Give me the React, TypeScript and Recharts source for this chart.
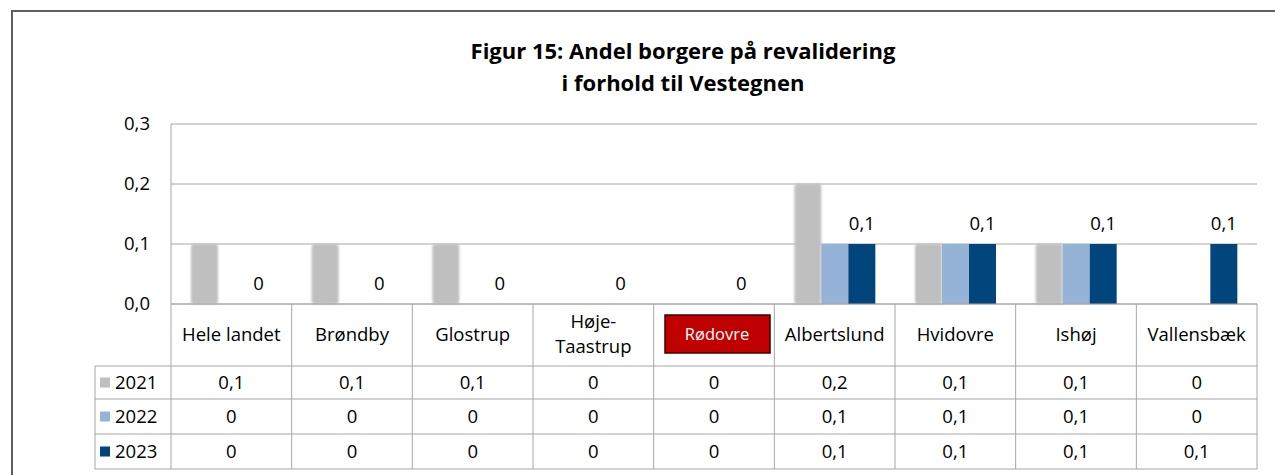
import React from "react";
import {
  BarChart,
  Bar,
  XAxis,
  YAxis,
  CartesianGrid,
} from "recharts";

const categories = [
  "Hele landet",
  "Brøndby",
  "Glostrup",
  "Høje-Taastrup",
  "Rødovre",
  "Albertslund",
  "Hvidovre",
  "Ishøj",
  "Vallensbæk",
];
const values2021 = [0.1, 0.1, 0.1, 0, 0, 0.2, 0.1, 0.1, 0];
const values2022 = [0, 0, 0, 0, 0, 0.1, 0.1, 0.1, 0];
const values2023 = [0, 0, 0, 0, 0, 0.1, 0.1, 0.1, 0.1];
const yTicks = [0, 0.1, 0.2, 0.3];
const years = ["2021", "2022", "2023"];
const colors = ["#bfbfbf", "#95b3d7", "#00457c"];
const highlight = "Rødovre";

const W = 1275;
const H = 475;
const PLOT_LEFT = 171;
const PLOT_RIGHT = 1257;
const PLOT_TOP = 124;
const PLOT_BOTTOM = 304;
const ROW_LINES = [366, 399, 434, 469];
const TABLE_LEFT = 95;
const BAND = (PLOT_RIGHT - PLOT_LEFT) / categories.length;
const FONT = "'Open Sans', Lato, sans-serif";
const FS = 18.5;
const LINE = "#a6a6a6";

const data = categories.map((name, i) => ({
  name,
  y2021: values2021[i],
  y2022: values2022[i],
  y2023: values2023[i],
}));
const seriesKeys = ["y2021", "y2022", "y2023"];
const seriesValues = [values2021, values2022, values2023];

const fmt = (v: number) => (v === 0 ? "0" : String(v).replace(".", ","));
const fmtAxis = (v: number) => v.toFixed(1).replace(".", ",");

function YTick(props: any) {
  const { y, payload } = props;
  return (
    <text x={PLOT_LEFT - 21} y={y} dy={6} textAnchor="end" fontSize={FS} fill="#000" fontFamily={FONT}>
      {fmtAxis(payload.value)}
    </text>
  );
}

function TableTick(props: any) {
  const { x, payload, index } = props;
  const name: string = payload.value;
  const right = x + BAND / 2;
  const lines = name.includes("-") ? [name.split("-")[0] + "-", name.split("-")[1]] : [name];
  return (
    <g fontFamily={FONT} fontSize={FS} fill="#000">
      {index === 0 && (
        <g>
          <line x1={PLOT_LEFT} x2={PLOT_LEFT} y1={PLOT_BOTTOM} y2={ROW_LINES[3]} stroke={LINE} />
          <line x1={TABLE_LEFT} x2={TABLE_LEFT} y1={ROW_LINES[0]} y2={ROW_LINES[3]} stroke={LINE} />
          {ROW_LINES.map((ry) => (
            <line key={ry} x1={TABLE_LEFT} x2={PLOT_RIGHT} y1={ry} y2={ry} stroke={LINE} />
          ))}
          {years.map((yr, r) => (
            <g key={yr}>
              <rect x={100} y={(ROW_LINES[r] + ROW_LINES[r + 1]) / 2 - 5} width={10} height={10} fill={colors[r]} />
              <text x={115} y={(ROW_LINES[r] + ROW_LINES[r + 1]) / 2 + 6} textAnchor="start">
                {yr}
              </text>
            </g>
          ))}
        </g>
      )}
      <line x1={right} x2={right} y1={PLOT_BOTTOM} y2={ROW_LINES[3]} stroke={LINE} />
      {name === highlight ? (
        <g>
          <rect x={x - 49} y={315} width={105} height={38} fill="#c00000" stroke="#3a0000" strokeWidth={1.5} />
          <text x={x + 3} y={340} textAnchor="middle" fill="#fff" fontSize={16.5}>
            {name}
          </text>
        </g>
      ) : lines.length === 1 ? (
        <text x={x} y={341} textAnchor="middle">
          {name}
        </text>
      ) : (
        lines.map((l, k) => (
          <text key={l} x={x} y={328 + k * 25} textAnchor="middle">
            {l}
          </text>
        ))
      )}
      {seriesValues.map((vals, r) => (
        <text key={r} x={x} y={(ROW_LINES[r] + ROW_LINES[r + 1]) / 2 + 6} textAnchor="middle">
          {fmt(vals[index])}
        </text>
      ))}
    </g>
  );
}

function SoftBar(props: any) {
  const { x, y, width, height, fill } = props;
  if (!height || height <= 0) return <g />;
  return <rect x={x} y={y} width={width} height={height} fill={fill} rx={3} filter="url(#soft)" />;
}

// 2023 bars carry the data labels, also for zero values
function LabelledBar(props: any) {
  const { x, y, width, height, fill, value } = props;
  const v = Array.isArray(value) ? value[1] - value[0] : value;
  return (
    <g>
      {height > 0 && <rect x={x} y={y} width={width} height={height} fill={fill} />}
      <text
        x={x + width / 2}
        y={y - 14}
        textAnchor="middle"
        fontFamily={FONT}
        fontSize={FS}
        fill="#000"
      >
        {fmt(Number(v))}
      </text>
    </g>
  );
}

export default function App() {
  return (
    <div style={{ position: "absolute", left: 0, top: 0, width: W, height: H, background: "#fff", overflow: "hidden" }}>
      <div
        style={{
          position: "absolute",
          left: 11,
          top: 10,
          width: W + 20,
          height: H + 20,
          borderLeft: "2px solid #5f5f5f",
          borderTop: "2px solid #5f5f5f",
        }}
      />
      <div
        style={{
          position: "absolute",
          left: 0,
          top: 34,
          width: 1366,
          textAlign: "center",
          fontFamily: FONT,
          fontWeight: 700,
          fontSize: 22,
          lineHeight: "32px",
          color: "#000",
        }}
      >
        Figur 15: Andel borgere på revalidering
        <br />i forhold til Vestegnen
      </div>
      <div style={{ position: "absolute", left: 0, top: 0 }}>
        <BarChart
          width={W}
          height={H}
          data={data}
          margin={{ top: PLOT_TOP, right: W - PLOT_RIGHT, left: PLOT_LEFT - 60, bottom: H - PLOT_BOTTOM - 165 }}
          barGap={0}
          barSize={27}
        >
          <defs>
            <filter id="soft" x="-20%" y="-5%" width="140%" height="110%">
              <feGaussianBlur stdDeviation={1.1} />
            </filter>
          </defs>
          <CartesianGrid vertical={false} stroke={LINE} />
          <XAxis
            dataKey="name"
            height={165}
            interval={0}
            tickLine={false}
            tickSize={0}
            axisLine={{ stroke: LINE }}
            tick={<TableTick />}
          />
          <YAxis
            width={60}
            domain={[0, 0.3]}
            ticks={yTicks}
            tickLine={false}
            axisLine={{ stroke: LINE }}
            tick={<YTick />}
          />
          {seriesKeys.map((k, i) => (
            <Bar
              key={k}
              dataKey={k}
              name={years[i]}
              fill={colors[i]}
              isAnimationActive={false}
              shape={i === 0 ? <SoftBar /> : i === 2 ? <LabelledBar /> : undefined}
            />
          ))}
        </BarChart>
      </div>
    </div>
  );
}
